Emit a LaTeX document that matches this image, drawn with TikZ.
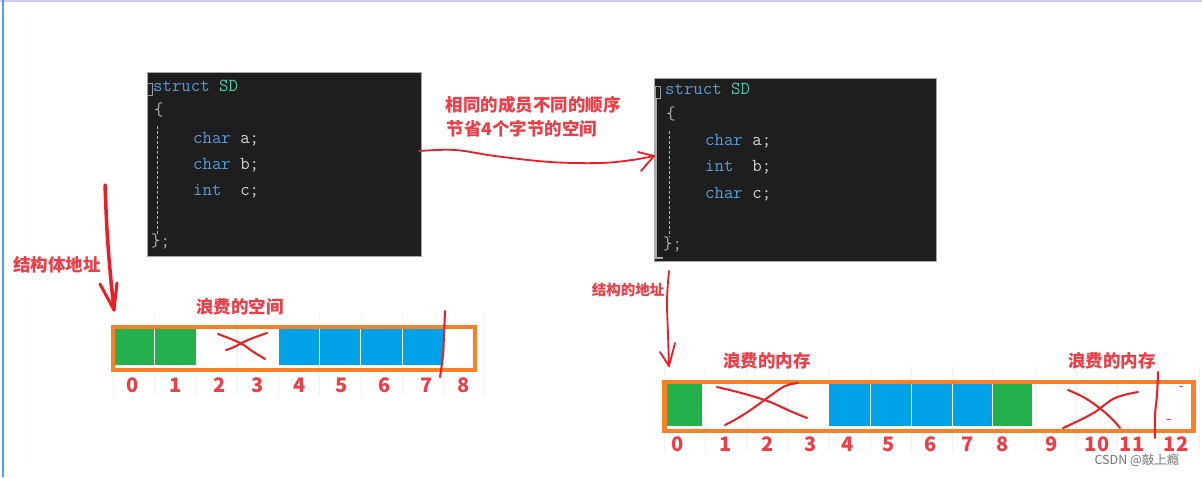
\documentclass[tikz,border=0pt]{standalone}
\usepackage{fontspec}
\newfontfamily\cjk{Noto Sans CJK SC}
\definecolor{codebg}{HTML}{1E1E1E}
\definecolor{kw}{HTML}{569CD6}
\definecolor{ty}{HTML}{4EC9B0}
\definecolor{idc}{HTML}{D4D4D4}
\definecolor{brc}{HTML}{B0B0B0}
\definecolor{pen}{HTML}{EE1C25}
\definecolor{org}{HTML}{FF7F27}
\definecolor{grn}{HTML}{22B14C}
\definecolor{blu}{HTML}{00A2E8}
\definecolor{lab}{HTML}{F03C46}
\definecolor{edge}{HTML}{4DA3F0}
\tikzset{
  x=1pt,y=-1pt,
  codebox/.style={fill=codebg,draw=gray!70,line width=0.8pt},
  codeline/.style={anchor=mid west,inner sep=0pt,font=\ttfamily\fontsize{18.3}{18}\selectfont,text=idc},
  redtxt/.style={font=\cjk\bfseries\fontsize{17.5}{18}\selectfont,text=lab,inner sep=0pt},
  numtxt/.style={font=\cjk\bfseries\fontsize{20}{20}\selectfont,text=lab,inner sep=0pt},
  stroke/.style={draw=pen,line width=2.4pt,line cap=round,line join=round},
  thinstroke/.style={draw=pen,line width=1.8pt,line cap=round,line join=round},
  cellg/.style={fill=grn,draw=white,line width=0.8pt},
  cellb/.style={fill=blu,draw=white,line width=0.8pt},
  faint/.style={draw=black!5,line width=0.6pt},
  guide/.style={draw=gray!60,line width=0.7pt,dash pattern=on 3pt off 2pt},
}
\begin{document}
\begin{tikzpicture}
\useasboundingbox (0,0) rectangle (1202,477);
\fill[white] (0,0) rectangle (1202,477);
% page edges
\draw[draw=blue!20,line width=1.2pt] (0,1) -- (1202,1);
\draw[draw=edge,line width=2pt] (3,0) -- (3,477);

% ---------- left code box ----------
\node[codebox,minimum width=274pt,minimum height=184pt,anchor=north west,inner sep=0pt] (codeL) at (147,72) {};
\draw[draw=gray!80,line width=0.7pt] (147.5,83) rectangle (152,95);
\draw[guide] (157,126) -- (157,234);
\node[codeline] (l1) at (153,89) {\textcolor{kw}{struct} \textcolor{ty}{SD}};
\node[codeline,text=brc] (l2) at (154,113) {\{};
\node[codeline] (l3) at (193,141) {\textcolor{kw}{char} a;};
\node[codeline] (l4) at (193,167) {\textcolor{kw}{char} b;};
\node[codeline] (l5) at (193,193) {\textcolor{kw}{int}\hphantom{xx}c;};
\node[codeline,text=brc] (l6) at (151,244) {\};};

% ---------- right code box ----------
\node[codebox,minimum width=282pt,minimum height=183pt,anchor=north west,inner sep=0pt] (codeR) at (654,78) {};
\draw[draw=gray!80,line width=0.7pt] (655,86) rectangle (660,98);
\draw[draw=gray!65,line width=2pt] (656,98) -- (656,258) -- (663,258);
\draw[guide] (669,131) -- (669,237);
\node[codeline] (r1) at (665,92) {\textcolor{kw}{struct} \textcolor{ty}{SD}};
\node[codeline,text=brc] (r2) at (666,117) {\{};
\node[codeline] (r3) at (705,143) {\textcolor{kw}{char} a;};
\node[codeline] (r4) at (705,169) {\textcolor{kw}{int}\hphantom{xx}b;};
\node[codeline] (r5) at (705,196) {\textcolor{kw}{char} c;};
\node[codeline,text=brc] (r6) at (663,247) {\};};

% ---------- top annotation and arrow ----------
\node[redtxt] (t1) at (533,105) {相同的成员不同的顺序};
\node[redtxt] (t2) at (522,129) {节省4个字节的空间};
\coordinate (aS) at (419,151);
\coordinate (aE) at (654,156);
\draw[thinstroke] plot[smooth,tension=0.6] coordinates {(aS) (455,150) (495,156) (550,162) (600,163) (632,160) (aE)};
\draw[thinstroke] (638,152) -- (aE) -- (641,171);

% ---------- left memory bar ----------
\foreach \k in {0,...,9} \draw[faint] (113+41.3*\k,314) -- (113+41.3*\k,396);
\draw[cellg] (113,327) rectangle (154,365);
\draw[cellg] (154,327) rectangle (196,365);
\foreach \k in {4,...,7} \draw[cellb] (113+41.3*\k,327) rectangle (113+41.3*\k+41.3,365);
\node[draw=org,line width=4.5pt,minimum width=362pt,minimum height=43pt,anchor=north west,inner sep=0pt] (barL) at (110.5,324.5) {};
\node[redtxt] (wasteL) at (240,307) {浪费的空间};
\draw[stroke,line width=2pt] plot[smooth,tension=0.7] coordinates {(218,334) (240,343) (252,351) (265,359)};
\draw[stroke,line width=2pt] plot[smooth,tension=0.7] coordinates {(267,333) (248,340) (234,347) (226,350)};
\draw[stroke,line width=2pt] plot[smooth,tension=0.7] coordinates {(445,311) (444,335) (443,355) (440,377)};
\foreach \n/\x in {0/133,1/176,2/220,3/258,4/300,5/342,6/385,7/427,8/464}
  \node[numtxt] (nL\n) at (\x,385) {\n};
\node[redtxt] (addrL) at (57,265) {结构体地址};
\coordinate (vS) at (105,185);
\coordinate (vE) at (114,310);
\draw[stroke,line width=3.5pt] plot[smooth,tension=0.6] coordinates {(vS) (107,230) (110,270) (vE)};
\draw[stroke,line width=3pt] (100,284) -- (vE) -- (117,283);

% ---------- right memory bar ----------
\foreach \k in {0,...,13} \draw[faint] (664+41.2*\k,367) -- (664+41.2*\k,452);
\draw[cellg] (664,382) rectangle (702,426);
\foreach \k in {4,...,7} \draw[cellb] (664+41.2*\k,382) rectangle (664+41.2*\k+41.2,426);
\draw[cellg] (992,382) rectangle (1032,426);
\node[draw=org,line width=4.5pt,minimum width=529pt,minimum height=49pt,anchor=north west,inner sep=0pt] (barR) at (662,379.5) {};
\node[redtxt] (wasteR1) at (767,361) {浪费的内存};
\node[redtxt] (wasteR2) at (1112,361) {浪费的内存};
\draw[stroke,line width=2pt] plot[smooth,tension=0.6] coordinates {(717,387) (745,394) (770,402) (790,411) (807,418)};
\draw[stroke,line width=2pt] plot[smooth,tension=0.6] coordinates {(798,383) (785,386) (770,396) (752,409) (738,418) (725,425)};
\draw[stroke,line width=2pt] plot[smooth,tension=0.6] coordinates {(1068,390) (1085,398) (1102,410) (1113,420) (1120,428)};
\draw[stroke,line width=2pt] plot[smooth,tension=0.6] coordinates {(1138,392) (1115,398) (1095,412) (1078,421) (1063,428)};
\draw[stroke,line width=2pt] plot[smooth,tension=0.6] coordinates {(1158,372) (1157,395) (1155,415) (1155,438)};
\draw[stroke,line width=1pt] (1180,386) -- (1182,386);
\draw[stroke,line width=1pt] (1167,419) -- (1170,419);
\foreach \n/\x in {0/678,1/726,2/768,3/811,4/848,5/889,6/931,7/968,8/1003,9/1052,10/1097,11/1132,12/1176}
  \node[numtxt] (nR\n) at (\x,444) {\n};
\node[redtxt,font=\cjk\bfseries\fontsize{14.5}{15}\selectfont] (addrR) at (628,290) {结构的地址};
\coordinate (wS) at (669,271);
\coordinate (wE) at (669,366);
\draw[thinstroke] plot[smooth,tension=0.6] coordinates {(wS) (667,300) (668,335) (wE)};
\draw[thinstroke] (660,352) -- (wE) -- (675,343);

% ---------- watermark ----------
\node[font=\cjk\fontsize{12.5}{13}\selectfont,text=black!55,inner sep=0pt] (wm) at (1137,460) {CSDN @敲上瘾};
\end{tikzpicture}
\end{document}
